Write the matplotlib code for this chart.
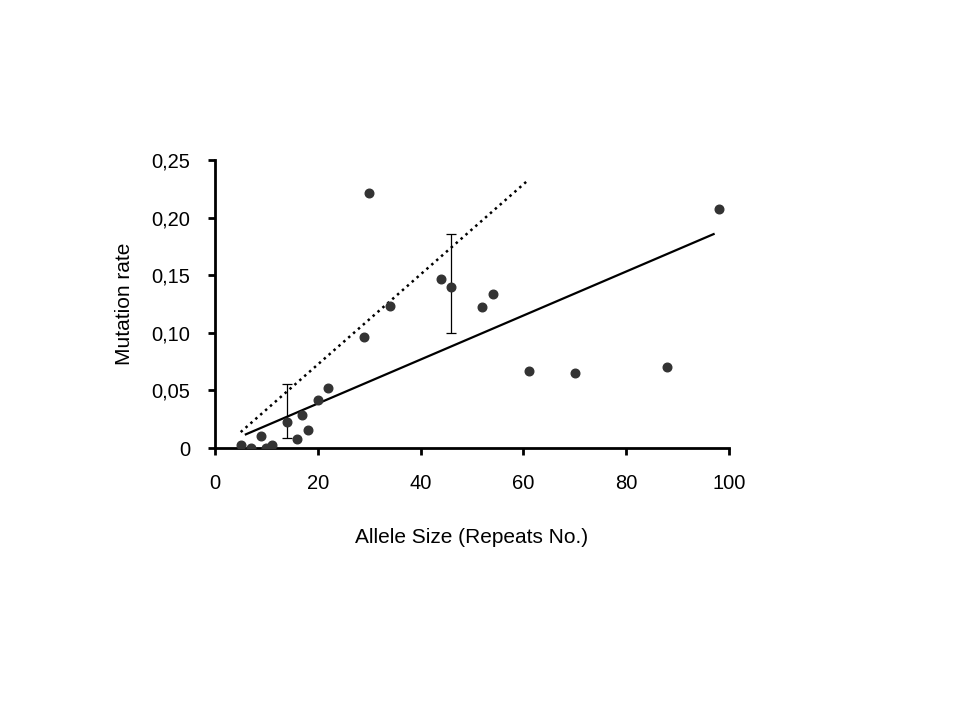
import matplotlib
matplotlib.use('Agg')
import numpy as np
import matplotlib.pyplot as plt

plt.rcParams['font.family'] = ['Liberation Sans', 'DejaVu Sans']

# data
allele_size = [5, 7, 9, 10, 11, 14, 16, 17, 18, 20, 22, 29, 30, 34, 44, 46, 52, 54, 61, 70, 88, 98]
mutation_rate = [0.003, 0.0, 0.010, 0.0, 0.003, 0.023, 0.0075, 0.029, 0.016, 0.042, 0.052,
                 0.096, 0.221, 0.1235, 0.147, 0.140, 0.122, 0.134, 0.067, 0.065, 0.0706, 0.2077]

# error bars on two points
err_x = [14, 46]
err_y = [0.0318, 0.1425]
err_half = [0.0235, 0.043]

# solid trend line (slope, intercept, x range)
fit_slope, fit_icpt = 0.00191, 0.0004
fit_range = [6, 97]
# dotted line
dot_slope, dot_icpt = 0.00391, -0.0057
dot_range = [5, 61]

yticks = [0, 0.05, 0.10, 0.15, 0.20, 0.25]
ytick_labels = ['0', '0,05', '0,10', '0,15', '0,20', '0,25']
xticks = [0, 20, 40, 60, 80, 100]

fig = plt.figure(figsize=(9.59, 7.19), dpi=100)
ax = fig.add_axes([0.2242, 0.3769, 0.5360, 0.4006])

xf = np.array(fit_range)
ax.plot(xf, fit_slope * xf + fit_icpt, color='black', lw=1.6, zorder=2)
xd = np.array(dot_range)
ax.plot(xd, dot_slope * xd + dot_icpt, color='black', lw=1.8, ls=(0, (1, 1.6)), zorder=2)

ax.errorbar(err_x, err_y, yerr=err_half, fmt='none', ecolor='black', elinewidth=0.9,
            capsize=3.5, capthick=0.9, zorder=3)
ax.plot(allele_size, mutation_rate, 'o', color='#333333', markersize=6.2, zorder=4)

ax.set_xlim(0, 100)
ax.set_ylim(0, 0.25)
ax.set_xticks(xticks)
ax.set_yticks(yticks)
ax.set_yticklabels(ytick_labels)

for s in ['top', 'right']:
    ax.spines[s].set_visible(False)
for s in ['left', 'bottom']:
    ax.spines[s].set_linewidth(2)
ax.tick_params(axis='both', direction='out', length=5, width=2, labelsize=14.5)
ax.tick_params(axis='y', pad=13)
ax.tick_params(axis='x', pad=14)

ax.set_xlabel('Allele Size (Repeats No.)', fontsize=15, labelpad=25)
ax.set_ylabel('Mutation rate', fontsize=15, labelpad=12)

fig.savefig('out.png', dpi=100)
